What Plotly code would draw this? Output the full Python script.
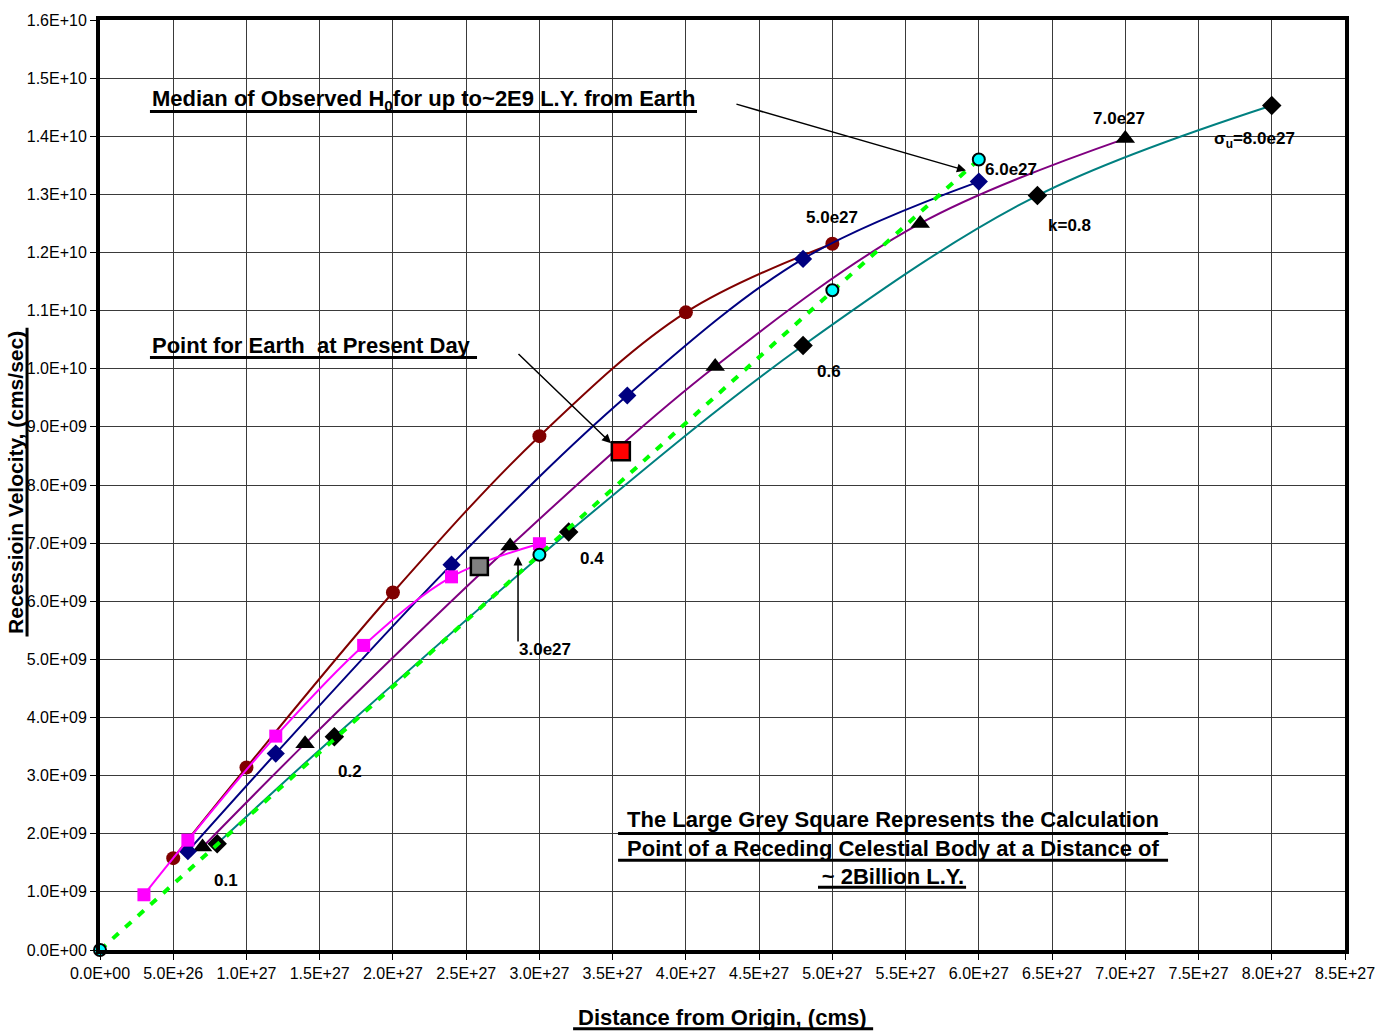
import plotly.graph_objects as go

# ---- data ----
x_s3 = [0.3e27, 0.6e27, 1.2e27, 1.8e27, 2.4e27, 3.0e27]
v_s3 = [0.95e9, 1.89e9, 3.68e9, 5.24e9, 6.42e9, 6.99e9]

x_s5 = [0.5e27, 1.0e27, 2.0e27, 3.0e27, 4.0e27, 5.0e27]
v_s5 = [1.58e9, 3.14e9, 6.15e9, 8.84e9, 1.097e10, 1.215e10]

x_s6 = [0.6e27, 1.2e27, 2.4e27, 3.6e27, 4.8e27, 6.0e27]
v_s6 = [1.70e9, 3.38e9, 6.63e9, 9.54e9, 1.189e10, 1.322e10]

x_s7 = [0.7e27, 1.4e27, 2.8e27, 4.2e27, 5.6e27, 7.0e27]
v_s7 = [1.77e9, 3.55e9, 6.95e9, 1.004e10, 1.25e10, 1.396e10]

x_s8 = [0.8e27, 1.6e27, 3.2e27, 4.8e27, 6.4e27, 8.0e27]
v_s8 = [1.83e9, 3.67e9, 7.19e9, 1.04e10, 1.298e10, 1.453e10]

x_obs = [0.0, 3.0e27, 5.0e27, 6.0e27]
v_obs = [0.0, 6.8e9, 1.135e10, 1.36e10]

x_earth = [3.556e27]
v_earth = [8.58e9]
x_grey = [2.59e27]
v_grey = [6.6e9]

x_ticks = [i * 0.5e27 for i in range(18)]
x_ticklabels = ["0.0E+00", "5.0E+26", "1.0E+27", "1.5E+27", "2.0E+27", "2.5E+27",
                "3.0E+27", "3.5E+27", "4.0E+27", "4.5E+27", "5.0E+27", "5.5E+27",
                "6.0E+27", "6.5E+27", "7.0E+27", "7.5E+27", "8.0E+27", "8.5E+27"]
y_ticks = [i * 1e9 for i in range(17)]
y_ticklabels = ["0.0E+00", "1.0E+09", "2.0E+09", "3.0E+09", "4.0E+09", "5.0E+09",
                "6.0E+09", "7.0E+09", "8.0E+09", "9.0E+09", "1.0E+10", "1.1E+10",
                "1.2E+10", "1.3E+10", "1.4E+10", "1.5E+10", "1.6E+10"]

FONT = "Liberation Sans, Arial, sans-serif"

fig = go.Figure()

fig.add_trace(go.Scatter(x=x_s8, y=v_s8, mode="lines+markers",
                         line=dict(color="#008080", width=2, shape="spline"),
                         marker=dict(symbol="diamond", size=15, color="black")))
fig.add_trace(go.Scatter(x=x_s7, y=v_s7, mode="lines+markers",
                         line=dict(color="#800080", width=2, shape="spline"),
                         marker=dict(symbol="triangle-up", size=17, color="black")))
fig.add_trace(go.Scatter(x=x_s5, y=v_s5, mode="lines+markers",
                         line=dict(color="#800000", width=2, shape="spline"),
                         marker=dict(symbol="circle", size=14, color="#800000")))
fig.add_trace(go.Scatter(x=x_s6, y=v_s6, mode="lines+markers",
                         line=dict(color="#000080", width=2, shape="spline"),
                         marker=dict(symbol="diamond", size=14, color="#000080")))
fig.add_trace(go.Scatter(x=x_s3, y=v_s3, mode="lines+markers",
                         line=dict(color="#FF00FF", width=2, shape="spline"),
                         marker=dict(symbol="square", size=13, color="#FF00FF")))
fig.add_trace(go.Scatter(x=x_obs, y=v_obs, mode="lines+markers", cliponaxis=False,
                         line=dict(color="#00FF00", width=4, dash="8px,9px"),
                         marker=dict(symbol="circle", size=12, color="#00FFFF",
                                     line=dict(color="black", width=2))))
fig.add_trace(go.Scatter(x=x_earth, y=v_earth, mode="markers",
                         marker=dict(symbol="square", size=18, color="#FF0000",
                                     line=dict(color="black", width=2.5))))
fig.add_trace(go.Scatter(x=x_grey, y=v_grey, mode="markers",
                         marker=dict(symbol="square", size=17, color="#808080",
                                     line=dict(color="black", width=2.5))))

def lbl(x, y, t, size=17):
    fig.add_annotation(x=x, y=y, xref="x", yref="y", text="<b>" + t + "</b>",
                       showarrow=False, font=dict(family=FONT, size=size, color="black"))

lbl(0.86e27, 1.2e9, "0.1")
lbl(1.706e27, 3.07e9, "0.2")
lbl(3.36e27, 6.73e9, "0.4")
lbl(4.98e27, 9.95e9, "0.6")
lbl(6.62e27, 1.247e10, "k=0.8")
lbl(7.88e27, 1.393e10, "σ<sub>u</sub>=8.0e27")
lbl(6.96e27, 1.43e10, "7.0e27")
lbl(6.22e27, 1.343e10, "6.0e27")
lbl(5.0e27, 1.261e10, "5.0e27")
lbl(3.04e27, 5.17e9, "3.0e27")

def big(x, y, t, xanchor="left", align="left"):
    fig.add_annotation(x=x, y=y, xref="x", yref="y", text=t, showarrow=False,
                       xanchor=xanchor, yanchor="middle", align=align,
                       font=dict(family=FONT, size=22, color="black"))

big(0.341e27, 1.463e10, "<b>Median of Observed H<sub>0</sub>for up to~2E9 L.Y. from Earth</b>")
big(0.341e27, 1.040e10, "<b>Point for Earth  at Present Day</b>")
big(5.414e27, 1.75e9,
    "<b>The Large Grey Square Represents the Calculation<br>"
    "Point of a Receding Celestial Body at a Distance of<br>"
    "~ 2Billion L.Y.</b>", xanchor="center", align="center")

# thick underlines (as in the reference)
def uline(x0, x1, y, xref="x", yref="y"):
    fig.add_shape(type="line", x0=x0, x1=x1, y0=y, y1=y, xref=xref, yref=yref,
                  line=dict(color="black", width=3))

uline(0.341e27, 4.076e27, 1.4424e10)
uline(0.341e27, 2.574e27, 1.0193e10)
uline(3.537e27, 7.292e27, 2.004e9)
uline(3.537e27, 7.292e27, 1.542e9)
uline(4.902e27, 5.913e27, 1.079e9)

def arrow(hx, hy, tx, ty):
    fig.add_annotation(x=hx, y=hy, ax=tx, ay=ty, xref="x", yref="y", axref="x", ayref="y",
                       text="", showarrow=True, arrowhead=2, arrowsize=1.2,
                       arrowwidth=1.5, arrowcolor="black")

arrow(5.912e27, 1.341e10, 4.335e27, 1.456e10)
arrow(3.489e27, 8.72e9, 2.847e27, 1.028e10)
arrow(2.854e27, 6.77e9, 2.854e27, 5.28e9)

# axis titles
fig.add_annotation(x=0.5, y=-0.0728, xref="paper", yref="paper",
                   text="<b>Distance from Origin, (cms)</b>", showarrow=False,
                   xanchor="center", yanchor="middle",
                   font=dict(family=FONT, size=22, color="black"))
fig.add_shape(type="line", xref="paper", yref="paper", x0=0.380, x1=0.621,
              y0=-0.0846, y1=-0.0846, line=dict(color="black", width=3))
fig.add_annotation(x=-0.0685, y=0.503, xref="paper", yref="paper",
                   text="<b>Recessioin Velocity, (cms/sec)</b>", showarrow=False,
                   textangle=-90, xanchor="center", yanchor="middle",
                   font=dict(family=FONT, size=21, color="black"))
fig.add_shape(type="line", xref="paper", yref="paper", x0=-0.0586, x1=-0.0586,
              y0=0.337, y1=0.669, line=dict(color="black", width=3))

axis_common = dict(showgrid=True, gridcolor="#3a3a3a", gridwidth=1,
                   showline=True, linecolor="black", linewidth=4, mirror=True,
                   ticks="outside", ticklen=6, tickcolor="black", tickwidth=1,
                   zeroline=False, tickfont=dict(family=FONT, size=16, color="black"))

fig.update_xaxes(range=[0, 8.5e27], tickvals=x_ticks, ticktext=x_ticklabels, **axis_common)
fig.update_yaxes(range=[0, 1.6e10], tickvals=y_ticks, ticktext=y_ticklabels, **axis_common)

fig.update_layout(width=1391, height=1034, showlegend=False,
                  margin=dict(l=100, r=46, t=16, b=84),
                  plot_bgcolor="white", paper_bgcolor="white")

fig.write_html("out.html", config={"displayModeBar": False},
               post_script="document.body.style.margin='0';")
